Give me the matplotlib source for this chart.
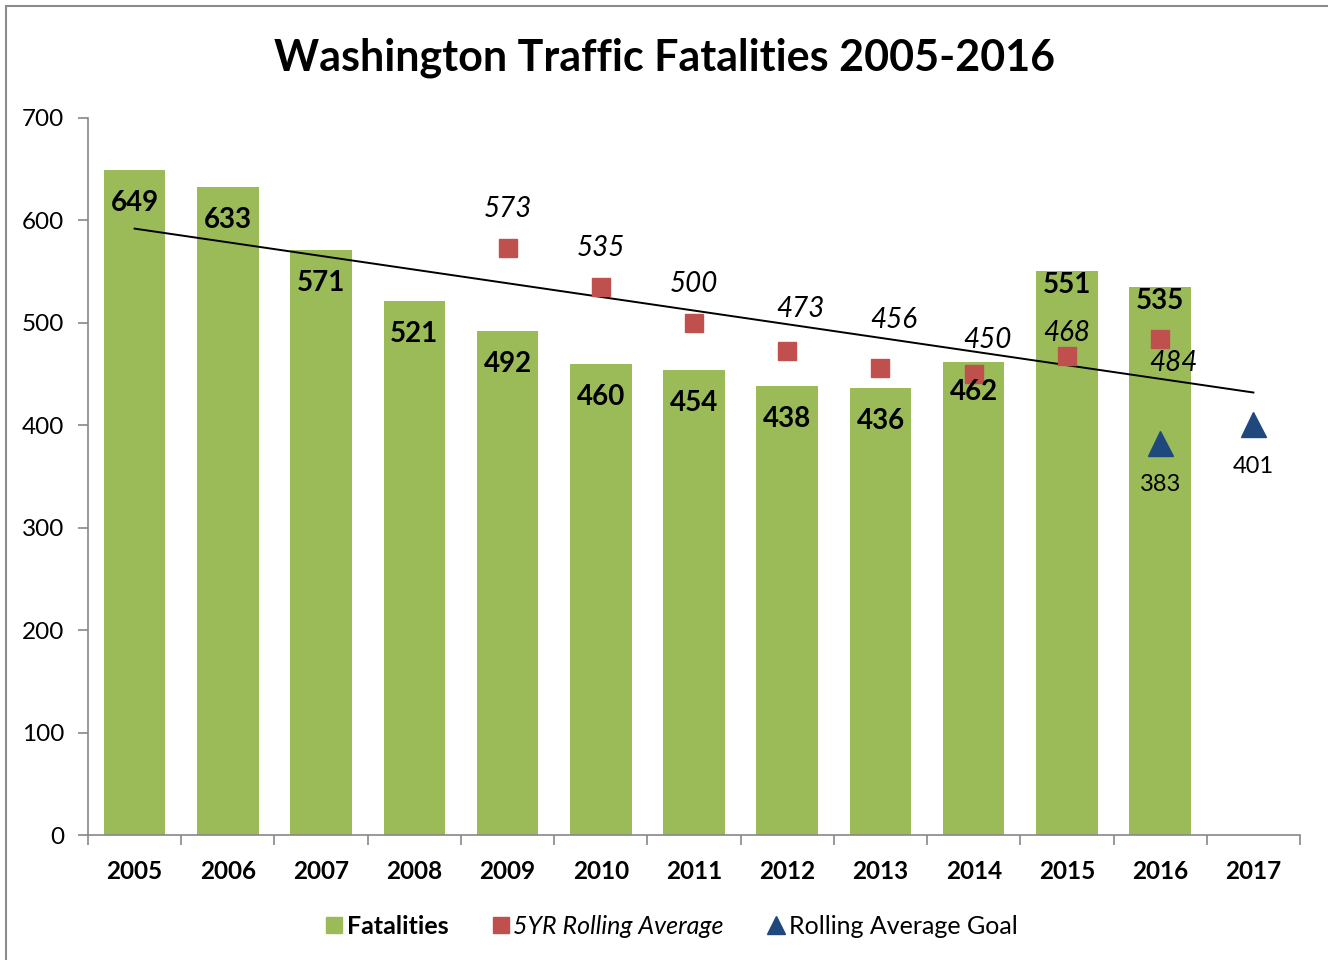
#!/usr/bin/env python3
'''Washington traffic fatalities 2005-2016 with rolling average and goal'''
import matplotlib
matplotlib.use('Agg')
import matplotlib.pyplot as plt
from matplotlib.patches import Rectangle
from matplotlib.lines import Line2D
import numpy as np

YEARS = ['2005', '2006', '2007', '2008', '2009', '2010', '2011',
         '2012', '2013', '2014', '2015', '2016', '2017']
FATALITIES = [649, 633, 571, 521, 492, 460, 454, 438, 436, 462, 551, 535]
ROLL_YEARS = ['2009', '2010', '2011', '2012', '2013', '2014', '2015', '2016']
ROLL_AVG = [573, 535, 500, 473, 456, 450, 468, 484]
GOAL_YEARS = ['2016', '2017']
GOAL = [383, 401]
TREND = [592, 432]   # trend line value at 2005 and at 2017

GREEN = '#9BBB59'
RED = '#C0504D'
BLUE = '#1F497D'
GREY = '#888888'

# label offsets in px
BAR_OFFS = [-33, -33, -33, -33, -33, -33, -33, -33, -33, -30, -14, -14]
ROLL_OFFS = [(0, 39), (0, 39), (0, 39), (13, 42), (13, 48), (14, 34), (0, 23), (13, -24)]
PT = 0.72  # px -> points at dpi 100

plt.rcParams['font.family'] = ['Lato', 'DejaVu Sans']


def run():
    fig = plt.figure(figsize=(13.28, 9.6), dpi=100)
    W, H = 1328, 960
    ax = fig.add_axes([88 / W, 1 - 835 / H, (1300 - 88) / W, (835 - 118) / H])

    xi = {y: i for i, y in enumerate(YEARS)}
    xb = np.arange(len(FATALITIES))
    ax.bar(xb, FATALITIES, width=0.66, color=GREEN, zorder=2)

    xr = [xi[y] for y in ROLL_YEARS]
    ax.plot(xr, ROLL_AVG, 's', color=RED, ms=13, ls='none', zorder=4)
    xg = [xi[y] for y in GOAL_YEARS]
    ax.plot(xg, GOAL, '^', color=BLUE, ms=18, ls='none', zorder=4)

    ax.plot([0, len(YEARS) - 1], TREND, color='black', lw=1.4, zorder=3)

    for x, v, dy in zip(xb, FATALITIES, BAR_OFFS):
        ax.annotate(str(v), (x, v), xytext=(0, dy * PT), textcoords='offset points',
                    ha='center', va='center', fontsize=20, fontweight='bold',
                    color='black', zorder=5)
    for x, v, (dx, dy) in zip(xr, ROLL_AVG, ROLL_OFFS):
        ax.annotate(str(v), (x, v), xytext=(dx * PT, dy * PT),
                    textcoords='offset points', ha='center', va='center',
                    fontsize=20, fontstyle='italic', color='black', zorder=5)
    for x, v in zip(xg, GOAL):
        ax.annotate(str(v), (x, v), xytext=(0, -42 * PT), textcoords='offset points',
                    ha='center', va='center', fontsize=17, color='black', zorder=5)

    ax.set_xlim(-0.5, len(YEARS) - 0.5)
    ax.set_ylim(0, 700)
    ax.set_yticks(range(0, 701, 100))
    ax.set_xticks(np.arange(len(YEARS)))
    ax.set_xticklabels(YEARS, fontsize=17.5, fontweight='bold')
    ax.set_xticks(np.arange(len(YEARS) + 1) - 0.5, minor=True)
    ax.tick_params(axis='x', which='major', length=0, pad=18)
    ax.tick_params(axis='x', which='minor', length=7, color=GREY, width=1.2)
    ax.tick_params(axis='y', length=7, color=GREY, width=1.2, labelsize=17.5, pad=10)
    for s in ['top', 'right']:
        ax.spines[s].set_visible(False)
    for s in ['left', 'bottom']:
        ax.spines[s].set_color(GREY)
        ax.spines[s].set_linewidth(1.2)

    fig.text(0.5, 1 - 58 / H, 'Washington Traffic Fatalities 2005-2016',
             ha='center', va='center', fontsize=31, fontweight='bold')

    handles = [
        Line2D([], [], marker='s', color=GREEN, ls='none', ms=11),
        Line2D([], [], marker='s', color=RED, ls='none', ms=11),
        Line2D([], [], marker='^', color=BLUE, ls='none', ms=13),
    ]
    leg = fig.legend(handles, ['Fatalities', '5YR Rolling Average', 'Rolling Average Goal'],
                     loc='center', bbox_to_anchor=(672 / W, 1 - 926 / H), ncol=3,
                     frameon=False, fontsize=18, handlelength=0.6, handletextpad=0.2,
                     columnspacing=1.8)
    t = leg.get_texts()
    t[0].set_fontweight('bold')
    t[1].set_fontstyle('italic')

    # chart frame (partially visible)
    fig.patches.append(Rectangle((6 / W, -0.1), 1.2, 1 - 6 / H + 0.1,
                                 transform=fig.transFigure, fill=False,
                                 edgecolor='#8c8c8c', lw=1.5))

    fig.savefig('out.png', dpi=100)


if __name__ == '__main__':
    run()
